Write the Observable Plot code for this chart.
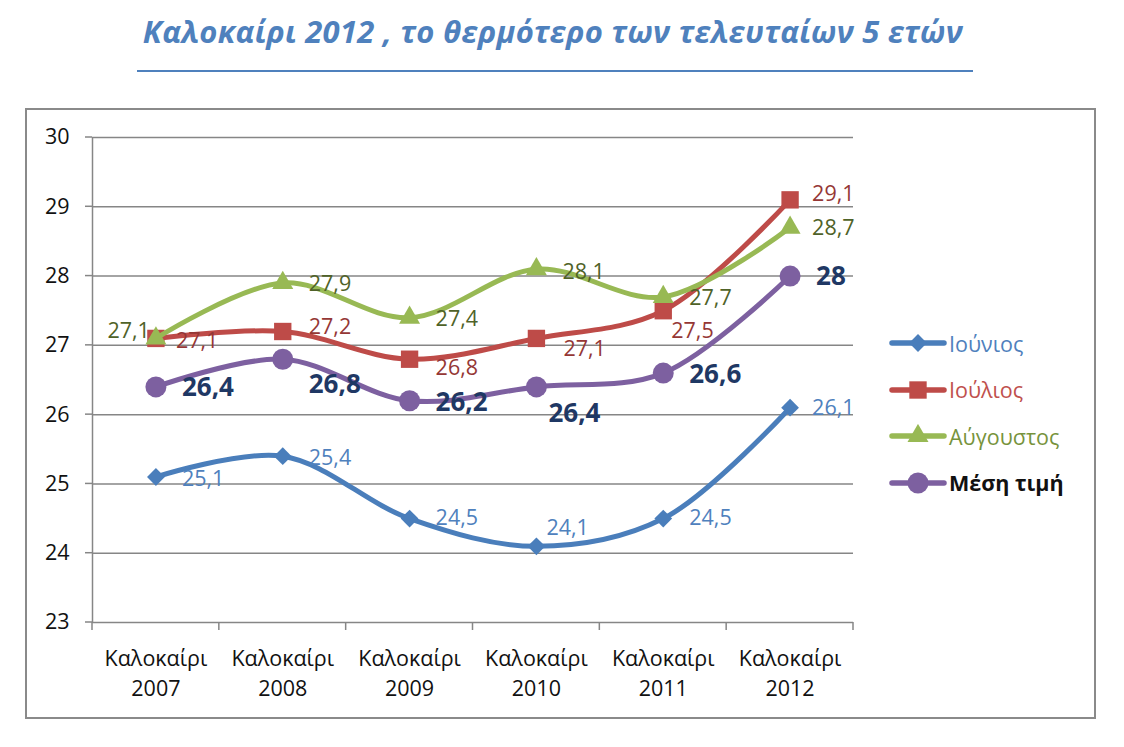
<!DOCTYPE html>
<html>
<head>
<meta charset="utf-8">
<script src="https://cdn.jsdelivr.net/npm/d3@7"></script>
<script src="https://cdn.jsdelivr.net/npm/@observablehq/plot@0.6"></script>
<style>
  html, body { margin: 0; padding: 0; background: #fff; }
  #wrap { position: relative; width: 1124px; height: 747px; overflow: hidden; font-family: "Open Sans", "Noto Sans", sans-serif; }
  #title { position: absolute; left: 0; width: 1106px; top: 10px; text-align: center; font-size: 31px; font-weight: 700; font-style: italic; color: #4f81bd; letter-spacing: 0.3px; }
  #rule { position: absolute; left: 137px; width: 836px; top: 70px; height: 2px; background: #4f81bd; }
  #frame { position: absolute; left: 25px; top: 108px; width: 1067px; height: 607px; border: 2px solid #8a8a8a; }
  #chart { position: absolute; left: 0; top: 0; }
  #legend { position: absolute; left: 888px; top: 320px; }
  .row { display: flex; align-items: center; height: 46.5px; font-size: 21.5px; }
  .row svg { margin-right: 1px; }
</style>
</head>
<body>
<div id="wrap">
  <div id="title">Καλοκαίρι 2012 , το θερμότερο των τελευταίων 5 ετών</div>
  <div id="rule"></div>
  <div id="frame"></div>
  <div id="chart"></div>
  <div id="legend"></div>
</div>
<script>
const categories = ["Καλοκαίρι 2007", "Καλοκαίρι 2008", "Καλοκαίρι 2009", "Καλοκαίρι 2010", "Καλοκαίρι 2011", "Καλοκαίρι 2012"];
const seriesNames = ["Ιούνιος", "Ιούλιος", "Αύγουστος", "Μέση τιμή"];
const june = [25.1, 25.4, 24.5, 24.1, 24.5, 26.1];
const july = [27.1, 27.2, 26.8, 27.1, 27.5, 29.1];
const august = [27.1, 27.9, 27.4, 28.1, 27.7, 28.7];
const average = [26.4, 26.8, 26.2, 26.4, 26.6, 28];
const yTicks = [23, 24, 25, 26, 27, 28, 29, 30];

// styles (kept apart from the data)
const styles = {
  "Ιούνιος":   {line: "#4a7ebb", symbol: "diamond2", r: 8, label: "#4f81bd", weight: 400, size: 21.5, legend: "#4f81bd"},
  "Ιούλιος":   {line: "#be4b48", symbol: "square", r: 9.8, label: "#953735", weight: 400, size: 21.5, legend: "#c0504d"},
  "Αύγουστος": {line: "#98b954", symbol: "triangle", r: 7.8, label: "#4f6228", weight: 400, size: 21.5, legend: "#77933c"},
  "Μέση τιμή": {line: "#7d60a0", symbol: "circle", r: 10.5, label: "#1f3864", weight: 700, size: 26, legend: "#111"}
};
// label nudges [dx, dy, anchor] per series, per point
const nudges = {
  "Ιούνιος":   [[26,2,"start"],[26,2,"start"],[26,0,"start"],[10,-18,"start"],[26,0,"start"],[22,0,"start"]],
  "Ιούλιος":   [[20,3,"start"],[26,-4,"start"],[26,9,"start"],[27,11,"start"],[8,20,"start"],[22,-6,"start"]],
  "Αύγουστος": [[-6,-7,"end"],[26,1,"start"],[26,1,"start"],[26,3,"start"],[26,1,"start"],[22,1,"start"]],
  "Μέση τιμή": [[26,1,"start"],[26,25,"start"],[26,2,"start"],[12,27,"start"],[26,2,"start"],[26,1,"start"]]
};

const values = [june, july, august, average];
const data = [];
seriesNames.forEach((s, si) => {
  values[si].forEach((v, i) => data.push({series: s, idx: i, cat: categories[i], value: v}));
});

const fmt = v => String(v).replace(".", ",");

const marks = [
  Plot.ruleY(yTicks, {y: d => d, stroke: "#868686", strokeWidth: 1.5}),
  Plot.ruleX([-0.5], {stroke: "#868686", strokeWidth: 1.5})
];

seriesNames.forEach(s => {
  const st = styles[s];
  const rows = data.filter(d => d.series === s);
  marks.push(Plot.line(rows, {x: "idx", y: "value", stroke: st.line, strokeWidth: 5, curve: "catmull-rom"}));
  marks.push(Plot.dot(rows, {x: "idx", y: "value", symbol: () => st.symbol, fill: st.line, stroke: "none", r: st.r}));
  rows.forEach((d, i) => {
    const [dx, dy, anchor] = nudges[s][i];
    marks.push(Plot.text([d], {x: "idx", y: "value", text: d => fmt(d.value), fill: st.label, fontSize: st.size, fontWeight: st.weight, textAnchor: anchor, dx, dy}));
  });
});

// category labels (two lines)
marks.push(Plot.text(categories.map((c, i) => ({i, c})), {x: "i", y: () => 23, text: d => d.c.replace(" ", "\n"), fill: "#111", fontSize: 21.5, lineHeight: 1.4, lineAnchor: "top", dy: 22}));
// y tick labels
marks.push(Plot.text(yTicks, {x: () => -0.5, y: d => d, text: d => String(d), fill: "#111", fontSize: 21.5, textAnchor: "end", dx: -23}));

const chart = Plot.plot({
  width: 1124,
  height: 747,
  marginLeft: 92,
  marginRight: 271,
  marginTop: 137,
  marginBottom: 125,
  style: {fontFamily: "'Open Sans', 'Noto Sans', sans-serif", background: "transparent"},
  x: {type: "linear", domain: [-0.5, categories.length - 0.5], axis: null},
  y: {type: "linear", domain: [23, 30], axis: null},
  marks
});
document.getElementById("chart").appendChild(chart);

// tick marks drawn through the chart's own scales
const xs = chart.scale("x"), ys = chart.scale("y");
const svg = d3.select(chart);
svg.append("g").selectAll("line").data(d3.range(categories.length + 1)).join("line")
  .attr("x1", d => xs.apply(d - 0.5)).attr("x2", d => xs.apply(d - 0.5))
  .attr("y1", ys.apply(23)).attr("y2", ys.apply(23) + 8)
  .attr("stroke", "#868686").attr("stroke-width", 1.5);
svg.append("g").selectAll("line").data(yTicks).join("line")
  .attr("x1", xs.apply(-0.5) - 7).attr("x2", xs.apply(-0.5))
  .attr("y1", d => ys.apply(d)).attr("y2", d => ys.apply(d))
  .attr("stroke", "#868686").attr("stroke-width", 1.5);

// legend
const legend = document.getElementById("legend");
seriesNames.forEach(s => {
  const st = styles[s];
  const row = document.createElement("div");
  row.className = "row";
  const sym = d3.symbol().type({diamond2: d3.symbolDiamond2, square: d3.symbolSquare, triangle: d3.symbolTriangle, circle: d3.symbolCircle}[st.symbol]).size(Math.PI * st.r * st.r)();
  row.innerHTML = `<svg width="60" height="24"><line x1="4" x2="56" y1="12" y2="12" stroke="${st.line}" stroke-width="5.5" stroke-linecap="round"/><path transform="translate(30,12)" d="${sym}" fill="${st.line}"/></svg><span style="color:${st.legend};font-weight:${st.weight}">${s}</span>`;
  legend.appendChild(row);
});
</script>
</body>
</html>
